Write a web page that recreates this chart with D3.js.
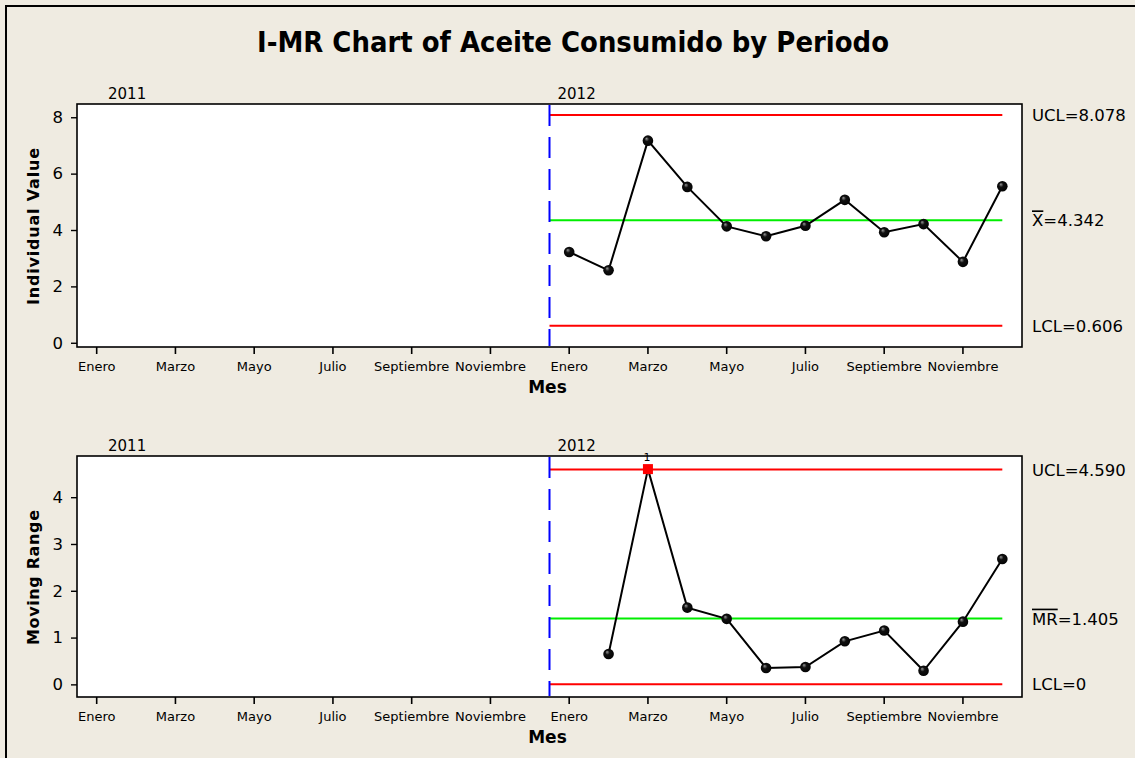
<!DOCTYPE html>
<html>
<head>
<meta charset="utf-8">
<script src="https://cdn.jsdelivr.net/npm/d3@7"></script>
<style>
  body { margin: 0; background: #EFEBE1; }
  text { font-family: "DejaVu Sans", Verdana, sans-serif; fill: #000; }
</style>
</head>
<body>
<svg id="chart" width="1135" height="758"></svg>
<script>
// ---- data ----
const years = ["2011", "2012"];
const months = ["Enero", "Febrero", "Marzo", "Abril", "Mayo", "Junio",
                "Julio", "Agosto", "Septiembre", "Octubre", "Noviembre", "Diciembre"];
const tickMonths = ["Enero", "Marzo", "Mayo", "Julio", "Septiembre", "Noviembre"];

// Aceite consumido per month of 2012 (no 2011 observations)
const aceite2012 = [3.22, 2.57, 7.17, 5.53, 4.13, 3.78, 4.15, 5.07, 3.92, 4.21, 2.87, 5.55];
// Moving range of consecutive months (first month has none)
const movingRange2012 = [null, 0.65, 4.60, 1.64, 1.40, 0.35, 0.37, 0.92, 1.15, 0.29, 1.34, 2.68];

const individualLimits = [8.078, 4.342, 0.606];   // UCL, X-bar, LCL
const movingRangeLimits = [4.590, 1.405, 0];      // UCL, MR-bar, LCL
const individualTicks = [0, 2, 4, 6, 8];
const movingRangeTicks = [0, 1, 2, 3, 4];

// ---- layout ----
const W = 1135, H = 758;
const plotLeft = 77, plotRight = 1022;
const svg = d3.select("#chart");

svg.append("rect").attr("x", 0).attr("y", 0).attr("width", W).attr("height", H).attr("fill", "#EFEBE1");
svg.append("rect").attr("x", 6).attr("y", 6).attr("width", W + 20).attr("height", H + 20)
  .attr("fill", "none").attr("stroke", "#000").attr("stroke-width", 2);

// glossy marker fill
const defs = svg.append("defs");
const grad = defs.append("radialGradient").attr("id", "dot").attr("cx", "50%").attr("cy", "50%")
  .attr("fx", "35%").attr("fy", "30%").attr("r", "60%");
grad.append("stop").attr("offset", "0%").attr("stop-color", "#9a9a9a");
grad.append("stop").attr("offset", "35%").attr("stop-color", "#111");
grad.append("stop").attr("offset", "100%").attr("stop-color", "#000");

svg.append("text")
  .attr("x", 573).attr("y", 52)
  .attr("text-anchor", "middle")
  .attr("font-size", 28).attr("font-weight", "bold")
  .attr("textLength", 632).attr("lengthAdjust", "spacingAndGlyphs")
  .text("I-MR Chart of Aceite Consumido by Periodo");

const periods = years.flatMap(y => months.map(m => y + "|" + m));
const x = d3.scaleBand().domain(periods).range([plotLeft, plotRight]).paddingInner(0).paddingOuter(0);
const xc = p => x(p) + x.bandwidth() / 2;
const periods2012 = months.map(m => "2012|" + m);
const splitX = x("2012|Enero");
const lastX = xc(periods2012[periods2012.length - 1]);

function drawPanel(cfg) {
  const g = svg.append("g");
  const y = d3.scaleLinear().domain(cfg.yDomain).range([cfg.bottom, cfg.top]);

  g.append("rect")
    .attr("x", plotLeft).attr("y", cfg.top)
    .attr("width", plotRight - plotLeft).attr("height", cfg.bottom - cfg.top)
    .attr("fill", "#fff").attr("stroke", "#000").attr("stroke-width", 1.6);

  // year labels
  g.append("text").attr("x", 108).attr("y", cfg.top - 5).attr("font-size", 15).text(years[0]);
  g.append("text").attr("x", splitX + 8).attr("y", cfg.top - 5).attr("font-size", 15).text(years[1]);

  // x axis
  const xAxis = d3.axisBottom(x)
    .tickValues(periods.filter(p => tickMonths.includes(p.split("|")[1])))
    .tickFormat(p => p.split("|")[1])
    .tickSize(7).tickPadding(8);
  const xa = g.append("g").attr("transform", `translate(0,${cfg.bottom})`).call(xAxis);
  xa.select(".domain").remove();
  xa.selectAll(".tick line").attr("stroke", "#000").attr("stroke-width", 1.6);
  xa.selectAll(".tick text").style("font-size", "13px").attr("fill", "#000");

  // y axis
  const yAxis = d3.axisLeft(y).tickValues(cfg.ticks).tickFormat(d3.format("d")).tickSize(6).tickPadding(8);
  const ya = g.append("g").attr("transform", `translate(${plotLeft},0)`).call(yAxis);
  ya.select(".domain").remove();
  ya.selectAll(".tick line").attr("stroke", "#000").attr("stroke-width", 1.4);
  ya.selectAll(".tick text").style("font-size", "16.5px").attr("fill", "#000");

  // axis titles
  g.append("text")
    .attr("x", (plotLeft + plotRight) / 2 - 2).attr("y", cfg.bottom + 46)
    .attr("text-anchor", "middle").attr("font-size", 17).attr("font-weight", "bold")
    .text("Mes");
  g.append("text")
    .attr("transform", `translate(39,${(cfg.top + cfg.bottom) / 2 + 1}) rotate(-90)`)
    .attr("text-anchor", "middle").attr("font-size", 16).attr("font-weight", "bold")
    .attr("textLength", cfg.titleLength).attr("lengthAdjust", "spacing")
    .text(cfg.yTitle);

  // control limits
  const limitColors = ["#FF0000", "#00EE00", "#FF0000"];
  cfg.limits.forEach((v, i) => {
    g.append("line")
      .attr("x1", splitX).attr("x2", lastX)
      .attr("y1", y(v)).attr("y2", y(v))
      .attr("stroke", limitColors[i]).attr("stroke-width", 2);
  });

  // period separator
  g.append("line")
    .attr("x1", splitX).attr("x2", splitX)
    .attr("y1", cfg.top + 1).attr("y2", cfg.bottom - 1)
    .attr("stroke", "#0000FF").attr("stroke-width", 2)
    .attr("stroke-dasharray", "21,11");

  // limit labels
  cfg.limits.forEach((v, i) => {
    const t = g.append("text")
      .attr("x", 1032).attr("y", y(v) + 6)
      .attr("font-size", 16.5);
    if (i === 1) {
      t.append("tspan").attr("text-decoration", "overline").text(cfg.centerSymbol);
      t.append("tspan").text("=" + d3.format(".3f")(v));
    } else {
      const name = i === 0 ? "UCL" : "LCL";
      t.text(name + "=" + (v === 0 ? "0" : d3.format(".3f")(v)));
    }
  });

  // data series
  const pts = periods2012.map((p, i) => ({ p, v: cfg.values[i] })).filter(d => d.v != null);
  g.append("path")
    .datum(pts)
    .attr("fill", "none").attr("stroke", "#000").attr("stroke-width", 2)
    .attr("d", d3.line().x(d => xc(d.p)).y(d => y(d.v)));

  const ucl = cfg.limits[0];
  const inCtl = pts.filter(d => d.v <= ucl);
  const outCtl = pts.filter(d => d.v > ucl);
  g.selectAll("circle.pt").data(inCtl).join("circle")
    .attr("class", "pt")
    .attr("cx", d => xc(d.p)).attr("cy", d => y(d.v)).attr("r", 5.3)
    .attr("fill", "url(#dot)");
  g.selectAll("rect.out").data(outCtl).join("rect")
    .attr("class", "out")
    .attr("x", d => xc(d.p) - 5).attr("y", d => y(d.v) - 5)
    .attr("width", 10).attr("height", 10).attr("fill", "#FF0000");
  g.selectAll("text.flag").data(outCtl).join("text")
    .attr("class", "flag")
    .attr("x", d => xc(d.p) - 1).attr("y", d => y(d.v) - 8)
    .attr("text-anchor", "middle").attr("font-size", 11)
    .text("1");
}

drawPanel({
  top: 104, bottom: 347,
  yDomain: [-0.15, 8.47],
  ticks: individualTicks,
  values: aceite2012,
  limits: individualLimits,
  centerSymbol: "X",
  yTitle: "Individual Value",
  titleLength: 157
});

drawPanel({
  top: 456, bottom: 697,
  yDomain: [-0.27, 4.88],
  ticks: movingRangeTicks,
  values: movingRange2012,
  limits: movingRangeLimits,
  centerSymbol: "MR",
  yTitle: "Moving Range",
  titleLength: 135
});
</script>
</body>
</html>
